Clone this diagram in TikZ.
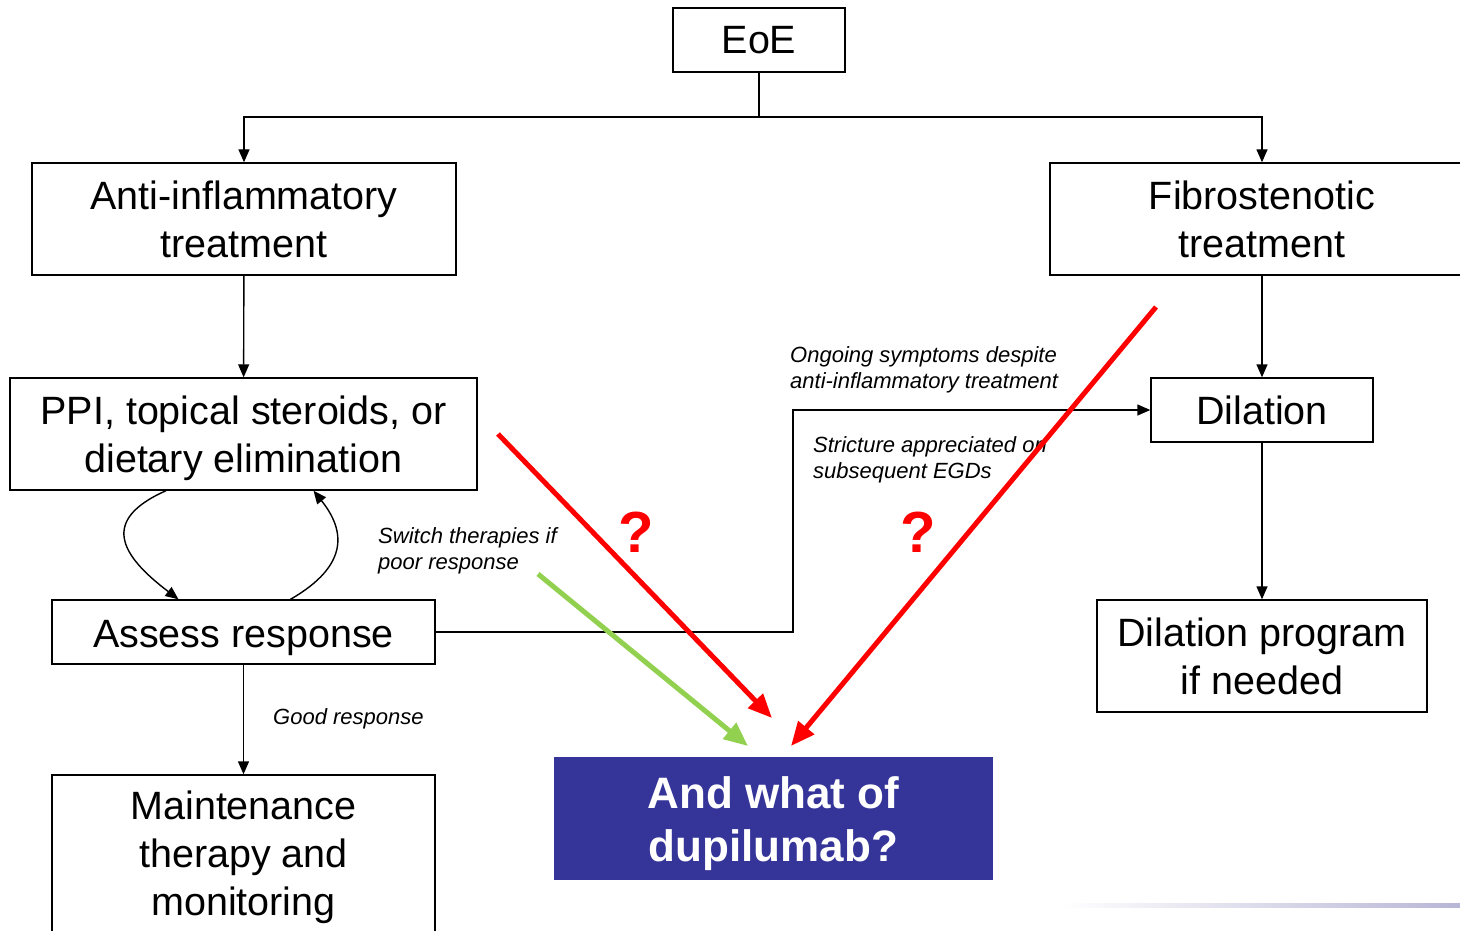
\documentclass[tikz,border=0pt]{standalone}
\usepackage{fontspec}
\setmainfont{Liberation Sans}
\usetikzlibrary{arrows.meta}
\definecolor{bluebox}{HTML}{353599}
\definecolor{greenarr}{HTML}{92D050}
\definecolor{lav}{HTML}{B8B6D6}
\tikzset{
  box/.style={draw, line width=1.4pt, align=center, inner sep=0pt, font=\fontsize{39.5}{48}\selectfont},
  arr/.style={line width=1.4pt, -{Triangle[length=13pt,width=11pt]}},
  lbl/.style={anchor=west, align=left, inner sep=0pt, font=\fontsize{22}{26}\selectfont\itshape},
  bigarr/.style={line width=5pt, -{Triangle[length=24pt,width=20pt]}},
  qmark/.style={text=red, font=\fontsize{58}{60}\selectfont\bfseries, inner sep=0pt}
}
\begin{document}
\begin{tikzpicture}[x=1pt,y=-1pt]
\useasboundingbox (0,0) rectangle (1460,931);
\clip (0,0) rectangle (1460,931);

\node[box, minimum width=172pt, minimum height=64pt] (eoe) at (759,40) {EoE};
\node[box, minimum width=424pt, minimum height=112pt] (anti) at (244,219) {Anti-inflammatory\\treatment};
\node[box, minimum width=424pt, minimum height=112pt] (fibro) at (1262,219) {Fibrostenotic\\treatment};
\node[box, minimum width=467pt, minimum height=112pt] (ppi) at (243.5,434) {\rule{0pt}{37pt}PPI, topical steroids, or\\dietary elimination};
\node[box, minimum width=383pt, minimum height=64pt, text height=36pt, text depth=6pt] (assess) at (243.5,632) {Assess response};
\node[box, minimum width=383pt, minimum height=165pt] (maint) at (243.5,857.5) {Maintenance\\therapy and\\monitoring};
\node[box, minimum width=222pt, minimum height=64pt] (dil) at (1262,410) {Dilation};
\node[box, minimum width=330pt, minimum height=112pt] (dilprog) at (1262,656) {Dilation program\\if needed};
\node[fill=bluebox, text=white, align=center, inner sep=0pt, minimum width=439pt, minimum height=123pt,
      font=\fontsize{44}{53}\selectfont\bfseries] (dupi) at (773.5,818.5) {\rule{0pt}{42pt}And what of\\dupilumab?};

% tree connectors
\coordinate (split) at (759,117);
\draw[line width=1.4pt] (eoe.south) -- (split);
\draw[arr] (split) -| (anti.north);
\draw[arr] (split) -| (fibro.north);
\draw[arr] (anti) -- (ppi);
\draw[arr] (fibro) -- (dil);
\draw[arr] (dil) -- (dilprog);
\draw[arr] (assess) -- (maint);
\coordinate (bend) at (793,632);
\draw[arr] (assess.east) -- (bend) |- (dil.west);

% loop arrows
\draw[arr] ([xshift=-77.5pt]ppi.south) .. controls (100,520) and (120,555) .. ([xshift=-65pt]assess.north);
\draw[arr] ([xshift=47pt]assess.north) .. controls (350,565) and (345,530) .. ([xshift=70pt]ppi.south);

% labels
\node[lbl] (l1) at (790,370) {Ongoing symptoms despite\\anti-inflammatory treatment};
\node[lbl] (l2) at (813,460) {Stricture appreciated on\\subsequent EGDs};
\node[lbl] (l3) at (378,551) {Switch therapies if\\poor response};
\node[lbl] (l4) at (273,719) {Good response};

% coloured arrows
\coordinate (r1s) at (498,434);
\coordinate (r1e) at (772,718);
\coordinate (r2s) at (1156,307);
\coordinate (r2e) at (791,746);
\coordinate (gs) at (538,574);
\coordinate (ge) at (748,746);
\draw[bigarr, red] (r1s) -- (r1e);
\draw[bigarr, red] (r2s) -- (r2e);
\draw[bigarr, greenarr] (gs) -- (ge);

\node[qmark] (q1) at (636,532) {?};
\node[qmark] (q2) at (918,532) {?};

% gradient rule
\shade[left color=white, right color=lav] (1060,903) rectangle (1460,907);
\end{tikzpicture}
\end{document}
